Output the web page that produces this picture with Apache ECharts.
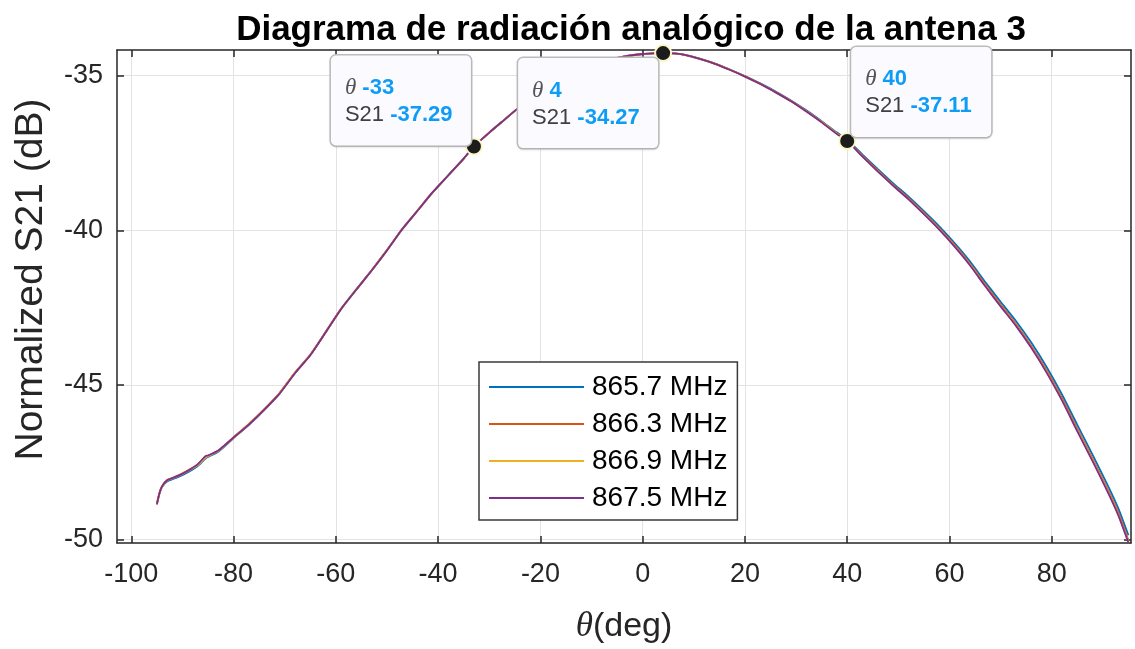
<!DOCTYPE html>
<html>
<head>
<meta charset="utf-8">
<title>Diagrama de radiación analógico de la antena 3</title>
<script src="https://cdn.jsdelivr.net/npm/echarts@6/dist/echarts.min.js"></script>
<style>
  html, body { margin: 0; padding: 0; background: #ffffff; }
  #chart { width: 1135px; height: 649px; }
</style>
</head>
<body>
<div id="chart"></div>
<script>
// Scan angle (deg)
const theta = [-95, -94.5, -94, -93, -91, -89, -87, -85.5, -85, -83,
  -80, -77, -74, -71, -68, -65, -62, -59, -56, -53,
  -50, -47, -44, -41, -38, -35, -33, -30, -27, -24,
  -21, -18, -15, -12, -9, -6, -3, 0, 2, 4,
  6, 8, 11, 14, 17, 20, 23, 26, 29, 32,
  35, 38, 40, 43, 46, 49, 52, 55, 58, 61,
  64, 67, 70, 73, 76, 79, 82, 85, 88, 91,
  93, 95];

// Normalized S21 (dB) for each frequency
const s21_8657 = [-48.84, -48.52, -48.30, -48.12, -47.99, -47.83, -47.62, -47.38, -47.33, -47.16,
  -46.72, -46.29, -45.81, -45.27, -44.62, -44.03, -43.29, -42.55, -41.91, -41.30,
  -40.64, -39.96, -39.36, -38.76, -38.22, -37.68, -37.29, -36.84, -36.42, -36.00,
  -35.64, -35.30, -35.02, -34.79, -34.60, -34.46, -34.36, -34.30, -34.28, -34.27,
  -34.28, -34.32, -34.44, -34.60, -34.80, -35.01, -35.25, -35.51, -35.80, -36.12,
  -36.47, -36.84, -37.07, -37.55, -38.02, -38.48, -38.91, -39.38, -39.87, -40.41,
  -41.00, -41.67, -42.31, -42.93, -43.63, -44.42, -45.31, -46.29, -47.26, -48.26,
  -48.98, -49.86];
const s21_8663 = [-48.85, -48.49, -48.27, -48.07, -47.94, -47.77, -47.57, -47.33, -47.29, -47.13,
  -46.69, -46.26, -45.78, -45.26, -44.60, -44.02, -43.29, -42.54, -41.91, -41.29,
  -40.64, -39.95, -39.35, -38.76, -38.22, -37.68, -37.29, -36.84, -36.42, -36.00,
  -35.64, -35.30, -35.02, -34.79, -34.60, -34.46, -34.36, -34.30, -34.28, -34.27,
  -34.28, -34.32, -34.45, -34.60, -34.80, -35.02, -35.26, -35.53, -35.82, -36.14,
  -36.49, -36.87, -37.10, -37.59, -38.07, -38.53, -38.96, -39.44, -39.94, -40.48,
  -41.08, -41.75, -42.40, -43.03, -43.74, -44.53, -45.43, -46.42, -47.39, -48.40,
  -49.12, -50.02];
const s21_8669 = [-48.87, -48.51, -48.29, -48.09, -47.96, -47.79, -47.59, -47.35, -47.30, -47.14,
  -46.71, -46.28, -45.80, -45.27, -44.61, -44.03, -43.30, -42.55, -41.92, -41.30,
  -40.65, -39.96, -39.36, -38.77, -38.22, -37.69, -37.29, -36.84, -36.42, -36.00,
  -35.64, -35.30, -35.02, -34.79, -34.60, -34.46, -34.36, -34.30, -34.28, -34.27,
  -34.28, -34.32, -34.45, -34.61, -34.81, -35.03, -35.27, -35.54, -35.83, -36.15,
  -36.50, -36.88, -37.11, -37.61, -38.09, -38.55, -38.99, -39.46, -39.96, -40.51,
  -41.11, -41.79, -42.44, -43.07, -43.78, -44.58, -45.48, -46.47, -47.44, -48.45,
  -49.18, -50.07];
const s21_8675 = [-48.86, -48.50, -48.28, -48.08, -47.95, -47.78, -47.56, -47.30, -47.28, -47.12,
  -46.70, -46.28, -45.80, -45.28, -44.62, -44.04, -43.30, -42.55, -41.92, -41.30,
  -40.65, -39.96, -39.36, -38.76, -38.22, -37.68, -37.29, -36.84, -36.42, -36.00,
  -35.64, -35.30, -35.02, -34.79, -34.60, -34.46, -34.36, -34.30, -34.28, -34.27,
  -34.28, -34.32, -34.45, -34.61, -34.81, -35.03, -35.27, -35.54, -35.83, -36.16,
  -36.51, -36.89, -37.11, -37.62, -38.10, -38.56, -39.00, -39.48, -39.98, -40.53,
  -41.13, -41.81, -42.46, -43.09, -43.80, -44.60, -45.50, -46.50, -47.47, -48.48,
  -49.21, -50.10];

const seriesNames = ['865.7 MHz', '866.3 MHz', '866.9 MHz', '867.5 MHz'];
const seriesValues = [s21_8657, s21_8663, s21_8669, s21_8675];

// Data tips
const tipTheta = [-33, 4, 40];
const tipS21 = [-37.29, -34.27, -37.11];

// Tick labels
const xTicks = [-100, -80, -60, -40, -20, 0, 20, 40, 60, 80];
const yTicks = [-50, -45, -40, -35];

// Layout / style
const colors = ['#0072BD', '#D95319', '#EDB120', '#7E2F8E'];
// label box anchor (left edge, vertical centre) relative to each tip marker
const tipOffsets = [[-143, -46], [-145, 50], [4, -49]];
const FONT = '"Liberation Sans", Arial, Helvetica, sans-serif';
const SERIF = '"Liberation Serif", "DejaVu Serif", serif';
const AX = '#262626';

const lineSeries = seriesNames.map((name, i) => ({
  name: name,
  type: 'line',
  symbol: 'none',
  smooth: 0.2,
  color: colors[i],
  lineStyle: { width: 1.8, color: colors[i] },
  data: theta.map((t, k) => [t, seriesValues[i][k]]),
  z: 2 + i
}));

const tipSeries = {
  type: 'scatter',
  symbol: 'circle',
  symbolSize: 16,
  z: 20,
  itemStyle: { color: '#1c1c1c', borderColor: '#fbf7c4', borderWidth: 2, opacity: 1 },
  data: tipTheta.map((t, i) => ({
    value: [t, tipS21[i]],
    label: { offset: tipOffsets[i] }
  })),
  label: {
    show: true,
    position: 'inside',
    align: 'left',
    width: 108,
    opacity: 1,
    fontFamily: FONT,
    fontSize: 22,
    color: '#404040',
    backgroundColor: '#fbfbff',
    borderColor: '#bdbdbd',
    borderWidth: 1.5,
    borderRadius: 5,
    padding: [19, 18, 17, 14],
    shadowColor: 'rgba(0,0,0,0.08)',
    shadowBlur: 2,
    shadowOffsetY: 1,
    formatter: function (p) {
      const t = p.value[0];
      const s = p.value[1].toFixed(2);
      return '{th|θ} {v|' + t + '}\n{s|S21} {v|' + s + '}';
    },
    rich: {
      th: { fontFamily: SERIF, fontStyle: 'italic', fontSize: 23, color: '#555555', lineHeight: 27 },
      s: { fontFamily: FONT, fontSize: 22, color: '#404040', lineHeight: 27 },
      v: { fontFamily: FONT, fontSize: 22, fontWeight: 'bold', color: '#0f9cf5', lineHeight: 27 }
    }
  }
};

const xMin = -102.8, xMax = 95.5;
const yMin = -50.11, yMax = -34.17;

const chart = echarts.init(document.getElementById('chart'), null, { renderer: 'canvas' });
chart.setOption({
  animation: false,
  backgroundColor: '#ffffff',
  textStyle: { fontFamily: FONT },
  title: {
    text: 'Diagrama de radiación analógico de la antena 3',
    left: 626,
    top: 8,
    textAlign: 'center',
    textStyle: { fontFamily: FONT, fontSize: 35, fontWeight: 'bold', color: '#000000' }
  },
  legend: {
    data: seriesNames,
    orient: 'vertical',
    left: 479,
    top: 362,
    padding: [11, 10, 8, 10],
    icon: 'rect',
    itemWidth: 95,
    itemHeight: 2,
    itemGap: 9,
    backgroundColor: '#ffffff',
    borderColor: '#3a3a3a',
    borderWidth: 1.5,
    borderRadius: 0,
    textStyle: { fontFamily: FONT, fontSize: 28, color: '#000000', padding: [0, 0, 0, 3] }
  },
  grid: { left: 117, right: 4, top: 50, bottom: 104, containLabel: false },
  xAxis: [{
    type: 'value',
    min: xMin, max: xMax,
    position: 'bottom',
    name: '{it|θ}(deg)',
    nameLocation: 'middle',
    nameGap: 66,
    nameTextStyle: {
      fontFamily: FONT, fontSize: 34, color: '#262626',
      rich: { it: { fontFamily: SERIF, fontStyle: 'italic', fontSize: 35, color: '#262626' } }
    },
    axisLine: { show: true, onZero: false, lineStyle: { color: AX, width: 1.5 } },
    axisTick: { show: true, inside: true, length: 7, customValues: xTicks, lineStyle: { color: AX, width: 1.5 } },
    axisLabel: { customValues: xTicks, fontFamily: FONT, fontSize: 27, color: AX, margin: 18 },
    splitLine: { show: true, lineStyle: { color: '#e3e3e3', width: 1 } }
  }, {
    type: 'value',
    min: xMin, max: xMax,
    position: 'top',
    axisLine: { show: true, onZero: false, lineStyle: { color: AX, width: 1.5 } },
    axisTick: { show: true, inside: true, length: 7, customValues: xTicks, lineStyle: { color: AX, width: 1.5 } },
    axisLabel: { show: false },
    splitLine: { show: false }
  }],
  yAxis: [{
    type: 'value',
    min: yMin, max: yMax,
    position: 'left',
    name: 'Normalized S21 (dB)',
    nameLocation: 'middle',
    nameGap: 66,
    nameTextStyle: { fontFamily: FONT, fontSize: 39, color: '#262626', padding: [0, 0, 0, 34] },
    axisLine: { show: true, onZero: false, lineStyle: { color: AX, width: 1.5 } },
    axisTick: { show: true, inside: true, length: 7, customValues: yTicks, lineStyle: { color: AX, width: 1.5 } },
    axisLabel: { customValues: yTicks, fontFamily: FONT, fontSize: 27, color: AX, margin: 14 },
    splitLine: { show: true, lineStyle: { color: '#e3e3e3', width: 1 } }
  }, {
    type: 'value',
    min: yMin, max: yMax,
    position: 'right',
    axisLine: { show: true, onZero: false, lineStyle: { color: AX, width: 1.5 } },
    axisTick: { show: true, inside: true, length: 7, customValues: yTicks, lineStyle: { color: AX, width: 1.5 } },
    axisLabel: { show: false },
    splitLine: { show: false }
  }],
  series: lineSeries.concat([tipSeries])
});
</script>
</body>
</html>
